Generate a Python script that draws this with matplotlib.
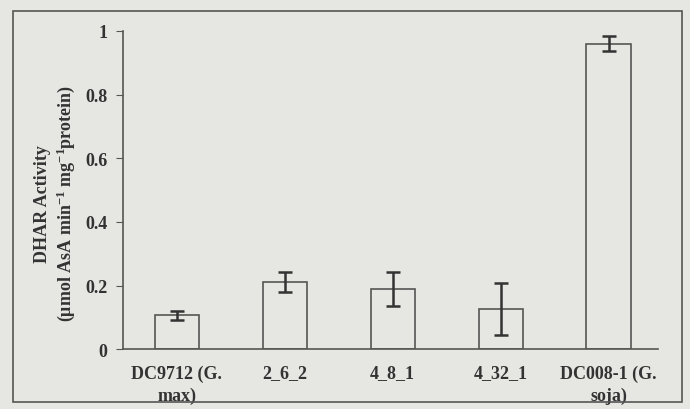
import matplotlib.pyplot as plt
from matplotlib.patches import Rectangle

# DHAR activity per genotype
genotypes = ['DC9712 (G.\nmax)', '2_6_2', '4_8_1', '4_32_1', 'DC008-1 (G.\nsoja)']
activity = [0.107, 0.21, 0.189, 0.126, 0.96]
errors = [0.014, 0.031, 0.053, 0.082, 0.024]
yticks = [0, 0.2, 0.4, 0.6, 0.8, 1]
ytick_labels = ['0', '0.2', '0.4', '0.6', '0.8', '1']

paper = '#e6e6e2'
ink = '#333333'

plt.rcParams['font.family'] = ['Liberation Serif', 'DejaVu Serif']
plt.rcParams['font.weight'] = 'bold'
plt.rcParams['mathtext.default'] = 'regular'

fig = plt.figure(figsize=(6.9, 4.1), dpi=100, facecolor=paper)
ax = fig.add_axes([0.178, 0.146, 0.776, 0.776])
ax.set_facecolor(paper)

# outer frame around the chart
fig.patches.append(Rectangle((13 / 690, 1 - 403 / 410), 669 / 690, 391 / 410,
                             transform=fig.transFigure, fill=False,
                             edgecolor='#555555', linewidth=1.2))

x = range(len(genotypes))
ax.bar(x, activity, width=0.41, color=paper, edgecolor='#555555', linewidth=1.2,
       yerr=errors, capsize=4.7,
       error_kw=dict(ecolor=ink, elinewidth=1.8, capthick=1.8))

ax.set_xlim(-0.5, 4.46)
ax.set_ylim(0, 1)
ax.set_yticks(yticks)
ax.set_yticklabels(ytick_labels)
ax.set_xticks(list(x))
ax.set_xticklabels(genotypes, fontsize=13, color=ink, fontweight='bold',
                   linespacing=1.35)
ax.tick_params(axis='y', labelsize=13, labelcolor=ink, color='#555555',
               direction='out', length=5, pad=6)
ax.tick_params(axis='x', length=0, pad=11)

for side in ['top', 'right']:
    ax.spines[side].set_visible(False)
for side in ['left', 'bottom']:
    ax.spines[side].set_color('#555555')
    ax.spines[side].set_linewidth(1.2)

ax.set_ylabel('DHAR Activity\n(μmol AsA min$^{-1}$ mg$^{-1}$protein)',
              fontsize=13, color=ink, fontweight='bold')
ax.yaxis.set_label_coords(-0.086, 0.46)

fig.savefig('out.png', dpi=100, facecolor=paper)
